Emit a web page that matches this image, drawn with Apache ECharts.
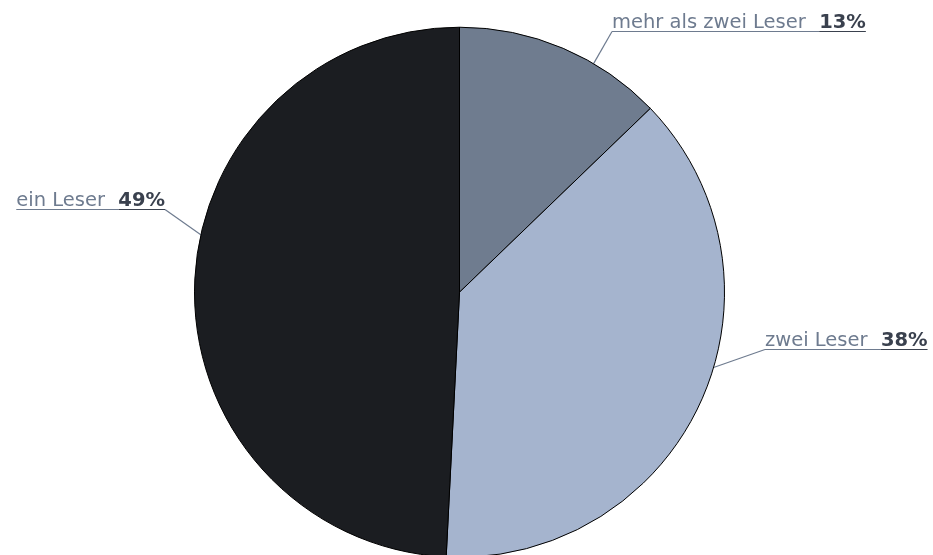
<!DOCTYPE html>
<html>
<head>
<meta charset="utf-8">
<script src="https://cdn.jsdelivr.net/npm/echarts@6/dist/echarts.min.js"></script>
<style>html,body{margin:0;padding:0;background:#fff}#c{width:933px;height:555px}</style>
</head>
<body>
<div id="c"></div>
<script>
// Data
var categories = ['mehr als zwei Leser', 'zwei Leser', 'ein Leser'];
var values = [12.8, 38.0, 49.2];

// Styles
var sliceColors = ['#6f7c8f', '#a5b4ce', '#1b1d21'];
var nameColor = '#6e7b8f';
var pctColor = '#3a414e';
var lineColor = '#6e7b8f';
var FONT = '"DejaVu Sans", sans-serif';
var FS = 19.5;
var CENTER = ['49.25%', '52.65%'];
var RADIUS = 265;
var LH = 18;

// label placement (style): anchor angle on rim (deg clockwise from top), label corner, side
var labelPlace = [
  { angle: 30.4, x: 612, y: 31, align: 'left' },
  { angle: 106.5, x: 765, y: 349, align: 'left' },
  { angle: 282.5, x: 165, y: 209, align: 'right' }
];

function underline(color) {
  var t = 1 - 1.4 / LH;
  return new echarts.graphic.LinearGradient(0, 0, 0, 1, [
    { offset: 0, color: 'rgba(0,0,0,0)' },
    { offset: t, color: 'rgba(0,0,0,0)' },
    { offset: t, color: color },
    { offset: 1, color: color }
  ]);
}

var chart = echarts.init(document.getElementById('c'), null, { renderer: 'canvas' });

function pct(v, w) { return parseFloat(v) / 100 * w; }

var option = {
  animation: false,
  series: [{
    type: 'pie',
    center: CENTER,
    radius: RADIUS,
    startAngle: 90,
    clockwise: true,
    percentPrecision: 0,
    data: categories.map(function (c, i) {
      return { name: c, value: values[i], itemStyle: { color: sliceColors[i] } };
    }),
    itemStyle: { borderColor: '#000', borderWidth: 1 },
    emphasis: { disabled: true },
    label: {
      show: true,
      overflow: 'none',
      width: 400,
      formatter: '{n|{b}  }{p|{d}%}',
      rich: {
        n: { fontFamily: FONT, fontSize: FS, color: nameColor, lineHeight: LH, height: LH, padding: [0, 1, 0, 0], backgroundColor: underline(lineColor) },
        p: { fontFamily: FONT, fontSize: FS, fontWeight: 'bold', color: pctColor, lineHeight: LH, height: LH, backgroundColor: underline(pctColor) }
      }
    },
    labelLine: { show: true, lineStyle: { color: lineColor, width: 1.2 } },
    labelLayout: function (params) {
      var W = chart.getWidth(), H = chart.getHeight();
      var cx = pct(CENTER[0], W), cy = pct(CENTER[1], H);
      var p = labelPlace[params.dataIndex];
      var a = p.angle * Math.PI / 180;
      var ex = cx + RADIUS * Math.sin(a), ey = cy - RADIUS * Math.cos(a);
      return {
        x: p.x,
        y: p.y + 1,
        align: p.align,
        verticalAlign: 'bottom',
        labelLinePoints: [[ex, ey], [p.x, p.y + 0.5], [p.x, p.y + 0.5]]
      };
    }
  }]
};
chart.setOption(option);
</script>
</body>
</html>
